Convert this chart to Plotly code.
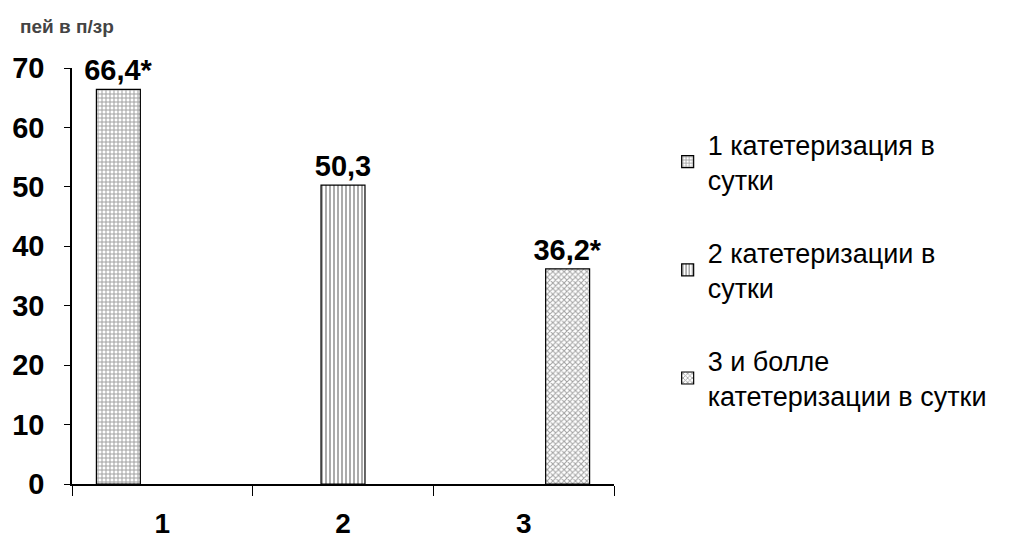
import plotly.graph_objects as go

categories = ["1", "2", "3"]
series_names = [
    "1 катетеризация в<br>сутки",
    "2 катетеризации в<br>сутки",
    "3 и болле<br>катетеризации в сутки",
]
values = [66.4, 50.3, 36.2]
labels = ["66,4*", "50,3", "36,2*"]
patterns = ["+", "|", "x"]
y_ticks = [0, 10, 20, 30, 40, 50, 60, 70]

fig = go.Figure()
for i, (name, v, lab, pat) in enumerate(zip(series_names, values, labels, patterns)):
    ys = [v if j == i else None for j in range(len(categories))]
    ts = [lab if j == i else "" for j in range(len(categories))]
    fig.add_trace(go.Bar(
        x=categories, y=ys, name=name,
        text=ts, textposition="outside", cliponaxis=False, constraintext="none",
        textfont=dict(family="Liberation Sans, Arial", size=29, color="black", weight="bold"),
        marker=dict(color="white", line=dict(color="black", width=1.2),
                    pattern=dict(shape=pat, fgcolor="#444", bgcolor="white", size=4, solidity=0.45)),
        legendgroup=str(i),
    ))

fig.update_layout(
    width=1016, height=551,
    barmode="group", bargap=0.27, bargroupgap=0,
    plot_bgcolor="white", paper_bgcolor="white",
    margin=dict(l=72, r=402, t=68, b=54),
    font=dict(family="Liberation Sans, Arial", color="black"),
    showlegend=True,
    legend=dict(x=1.099, y=0.875, xanchor="left", yanchor="top",
                font=dict(size=27, color="black"), tracegroupgap=35,
                bgcolor="rgba(0,0,0,0)"),
)
fig.update_xaxes(
    type="category", categoryorder="array", categoryarray=categories,
    showline=True, linecolor="black", linewidth=1.5,
    ticks="outside", tickson="boundaries", ticklen=10, tickcolor="black", tickwidth=1,
    tickfont=dict(size=28, weight="bold"), ticklabelstandoff=14,
    showgrid=False, zeroline=False,
)
fig.update_yaxes(
    range=[0, 70], tickvals=y_ticks,
    showline=True, linecolor="black", linewidth=1.5,
    ticks="outside", ticklen=6, tickcolor="black", tickwidth=1,
    tickfont=dict(size=29, weight="bold"), ticklabelstandoff=14,
    showgrid=False, zeroline=False,
)
fig.add_annotation(
    text="пей в п/зр", xref="paper", yref="paper", x=-0.1, y=1.1,
    xanchor="left", yanchor="middle", showarrow=False,
    font=dict(size=19, color="#444", weight="bold"),
)
fig.write_html("out.html")
